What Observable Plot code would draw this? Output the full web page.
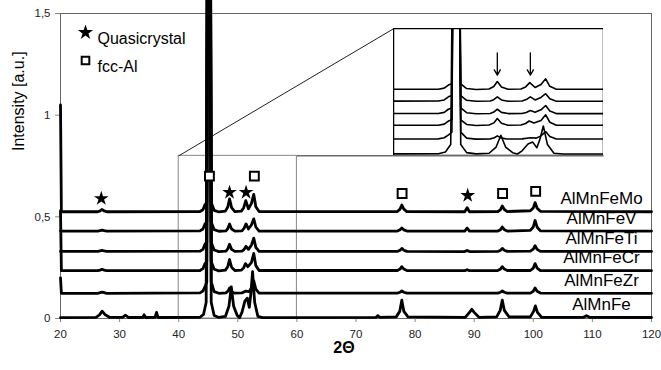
<!DOCTYPE html>
<html>
<head>
<meta charset="utf-8">
<script src="https://cdn.jsdelivr.net/npm/d3@7"></script>
<script src="https://cdn.jsdelivr.net/npm/@observablehq/plot@0.6"></script>
<style>
  html, body { margin: 0; padding: 0; background: white; }
  #wrap { position: relative; width: 661px; height: 370px; overflow: hidden; }
  #inset { position: absolute; }
</style>
</head>
<body>
<div id="wrap"></div>
<script>
// ---- data ----
const seriesNames = ["AlMnFe", "AlMnFeZr", "AlMnFeCr", "AlMnFeTi", "AlMnFeV", "AlMnFeMo"];
const seriesOffsets = [0, 0.12, 0.23, 0.325, 0.425, 0.52];

const patternFe = [[20,0.004],[26.0,0.006],[26.6,0.018],[27.05,0.036],[27.5,0.02],[28.3,0.006],[30.5,0.006],[31.0,0.016],[31.5,0.005],[33.9,0.005],[34.15,0.018],[34.4,0.005],[36.0,0.006],[36.25,0.03],[36.5,0.005],[43.6,0.006],[44.2,0.02],[44.65,0.08],[44.95,3],[45.25,3],[45.5,0.08],[46.0,0.015],[46.8,0.005],[47.9,0.01],[48.5,0.06],[48.9,0.155],[49.3,0.06],[49.9,0.015],[50.3,0.004],[50.7,0.03],[51.2,0.085],[51.6,0.1],[51.95,0.055],[52.2,0.12],[52.5,0.23],[52.85,0.08],[53.4,0.01],[54.2,0.004],[73.4,0.006],[73.7,0.014],[74.0,0.006],[76.8,0.008],[77.4,0.035],[77.75,0.09],[78.1,0.035],[78.8,0.008],[88.5,0.006],[89.2,0.03],[89.6,0.045],[90.0,0.03],[90.8,0.006],[93.8,0.008],[94.4,0.04],[94.75,0.09],[95.1,0.04],[95.9,0.008],[99.5,0.008],[100.05,0.035],[100.35,0.062],[100.7,0.03],[101.4,0.006],[108.5,0.006],[109.0,0.014],[109.5,0.006],[120,0.005]];
const patternZr = [[20,0.08],[20.15,0.004],[26.3,0.004],[26.7,0.007],[27,0.01],[27.4,0.007],[27.8,0.004],[43.6,0.006],[44.1,0.015],[44.5,0.04],[44.75,0.06],[44.95,3],[45.25,3],[45.5,0.06],[46.0,0.012],[46.8,0.004],[48.0,0.006],[48.35,0.015],[48.6,0.03],[48.9,0.014],[49.4,0.005],[50.7,0.006],[51.4,0.015],[51.9,0.012],[52.3,0.03],[52.7,0.065],[53.05,0.025],[53.6,0.005],[77.0,0.005],[77.45,0.009],[77.75,0.016],[78.1,0.009],[78.6,0.005],[94.0,0.005],[94.45,0.009],[94.75,0.016],[95.1,0.009],[95.6,0.005],[99.5,0.005],[100.0,0.014],[100.3,0.03],[100.65,0.014],[101.2,0.005],[120,0.004]];
const patternCr = [[20,0.3],[20.15,0.005],[26.3,0.005],[26.7,0.008],[27,0.012],[27.4,0.008],[27.8,0.005],[43.6,0.006],[44.1,0.015],[44.45,0.04],[44.75,0.05],[44.95,3],[45.25,3],[45.5,0.05],[46.0,0.012],[46.8,0.004],[47.9,0.008],[48.3,0.025],[48.6,0.06],[48.95,0.022],[49.5,0.006],[50.6,0.008],[51.0,0.02],[51.3,0.04],[51.7,0.025],[52.3,0.045],[52.7,0.09],[53.05,0.03],[53.6,0.006],[77.0,0.006],[77.45,0.013],[77.75,0.025],[78.1,0.013],[78.6,0.006],[88.4,0.005],[88.8,0.01],[89.2,0.005],[94.0,0.006],[94.45,0.013],[94.75,0.025],[95.1,0.013],[95.6,0.006],[99.5,0.006],[100.0,0.018],[100.3,0.04],[100.65,0.018],[101.2,0.006],[120,0.005]];
const patternTi = [[20,0.005],[26.3,0.005],[26.7,0.007],[27,0.01],[27.4,0.007],[27.8,0.005],[43.6,0.006],[44.1,0.015],[44.45,0.04],[44.75,0.05],[44.95,3],[45.25,3],[45.5,0.05],[46.0,0.012],[46.8,0.004],[48.0,0.006],[48.3,0.017],[48.6,0.04],[48.95,0.015],[49.5,0.005],[50.7,0.006],[51.05,0.014],[51.4,0.03],[51.8,0.015],[52.3,0.035],[52.7,0.07],[53.05,0.025],[53.6,0.005],[77.0,0.005],[77.45,0.011],[77.75,0.02],[78.1,0.011],[78.6,0.005],[88.4,0.004],[88.8,0.01],[89.2,0.004],[94.0,0.005],[94.45,0.011],[94.75,0.02],[95.1,0.011],[95.6,0.005],[99.5,0.006],[100.0,0.016],[100.3,0.033],[100.65,0.015],[101.2,0.005],[120,0.005]];
const patternV = [[20,0.005],[26.3,0.005],[26.7,0.007],[27,0.01],[27.4,0.007],[27.8,0.005],[43.6,0.006],[44.1,0.015],[44.45,0.04],[44.75,0.05],[44.95,3],[45.25,3],[45.5,0.05],[46.0,0.012],[46.8,0.004],[48.0,0.006],[48.3,0.017],[48.6,0.04],[48.95,0.015],[49.5,0.005],[50.7,0.006],[51.05,0.018],[51.4,0.04],[51.8,0.015],[52.3,0.035],[52.7,0.065],[53.05,0.025],[53.6,0.005],[77.0,0.005],[77.45,0.011],[77.75,0.02],[78.1,0.011],[78.6,0.005],[88.4,0.005],[88.8,0.02],[89.2,0.005],[94.0,0.005],[94.45,0.012],[94.75,0.025],[95.1,0.012],[95.6,0.005],[99.5,0.008],[100.0,0.025],[100.3,0.057],[100.65,0.024],[101.2,0.006],[120,0.005]];
const patternMo = [[20,0.53],[20.15,0.005],[26.3,0.005],[26.7,0.009],[27,0.016],[27.4,0.009],[27.8,0.005],[43.6,0.006],[44.1,0.015],[44.45,0.04],[44.75,0.05],[44.95,3],[45.25,3],[45.5,0.05],[46.0,0.012],[46.8,0.004],[47.9,0.008],[48.3,0.028],[48.6,0.068],[48.95,0.025],[49.5,0.006],[50.6,0.008],[51.0,0.025],[51.35,0.06],[51.8,0.02],[52.3,0.045],[52.7,0.09],[53.05,0.03],[53.6,0.006],[77.0,0.006],[77.45,0.018],[77.75,0.038],[78.1,0.018],[78.6,0.006],[88.4,0.005],[88.8,0.025],[89.2,0.005],[94.0,0.006],[94.45,0.016],[94.75,0.033],[95.1,0.016],[95.6,0.006],[99.5,0.01],[100.0,0.024],[100.3,0.05],[100.65,0.022],[101.2,0.007],[120,0.005]];
const patterns = [patternFe, patternZr, patternCr, patternTi, patternV, patternMo];

const starX = [26.9, 48.6, 51.4, 88.9];
const starY = [0.59, 0.62, 0.62, 0.605];
const squareX = [45.2, 52.8, 77.8, 94.8, 100.4];
const squareY = [0.70, 0.70, 0.615, 0.615, 0.625];

const xTicks = [20, 30, 40, 50, 60, 70, 80, 90, 100, 110, 120];
const yTicks = [0, 0.5, 1, 1.5];

const zoomBox = {x1: 40, x2: 60, y1: 0, y2: 0.8};          // region enlarged
const insetBox = {x1: 76.3, x2: 111.9, y1: 0.8, y2: 1.424}; // where the inset sits (main coords)
const insetDomainX = [39.8, 57.6];
const insetDomainY = [-0.008, 1.016];
const arrowX = [48.6, 51.4];
const arrowY = [0.82, 0.64];

(function () {
  const rows = [];
  patterns.forEach((p, i) => p.forEach(([x, v]) => rows.push({series: seriesNames[i], x, y: seriesOffsets[i] + v})));

  const font = "'Liberation Sans', Arial, sans-serif";
  const fmt = d => String(d).replace(".", ",");

  const main = Plot.plot({
    width: 661, height: 370,
    marginLeft: 60, marginRight: 10, marginTop: 13, marginBottom: 52,
    style: {fontFamily: font, fontSize: "11.5px", color: "#222", background: "white", overflow: "visible"},
    x: {domain: [20, 120]},
    y: {domain: [0, 1.5]},
    marks: [
      Plot.frame({stroke: "#666"}),
      Plot.axisX({ticks: xTicks, tickSize: 4, tickPadding: 7, stroke: "#888", fill: "#222", label: null}),
      Plot.axisY({ticks: yTicks, tickSize: 5, tickPadding: 5, tickFormat: fmt, stroke: "#888", fill: "#222", label: null}),
      Plot.rect([zoomBox], {x1: "x1", x2: "x2", y1: "y1", y2: "y2", stroke: "#888", fill: "none", strokeWidth: 1}),
      Plot.link([0, 1], {
        x1: [zoomBox.x1, zoomBox.x2], y1: [zoomBox.y2, zoomBox.y2],
        x2: [insetBox.x1, insetBox.x2], y2: [insetBox.y2, insetBox.y1],
        stroke: "#222", strokeWidth: 1
      }),
      Plot.line(rows, {x: "x", y: "y", z: "series", stroke: "black", strokeWidth: 2.8, strokeLinejoin: "round"}),
      Plot.dot(starX, {x: d => d, y: (d, i) => starY[i], symbol: "star", fill: "black", r: 4.6}),
      Plot.dot(squareX, {x: d => d, y: (d, i) => squareY[i], symbol: "square", fill: "white", stroke: "black", strokeWidth: 2, r: 5}),
      Plot.text(seriesNames, {y: (d, i) => seriesOffsets[i] + 0.068, text: d => d, frameAnchor: "right", textAnchor: "middle", dx: -50, fontSize: 17, fill: "black"}),
      Plot.dot(["Quasicrystal"], {frameAnchor: "top-left", dx: 25, dy: 19, symbol: "star", fill: "black", r: 4.8}),
      Plot.dot(["fcc-Al"], {frameAnchor: "top-left", dx: 25, dy: 47, symbol: "square", fill: "white", stroke: "black", strokeWidth: 2, r: 4.3}),
      Plot.text(["Quasicrystal"], {frameAnchor: "top-left", dx: 37, dy: 19, text: d => d, textAnchor: "start", fontSize: 16, fill: "black"}),
      Plot.text(["fcc-Al"], {frameAnchor: "top-left", dx: 37, dy: 47, text: d => d, textAnchor: "start", fontSize: 16, fill: "black"}),
      Plot.text(["2Θ"], {frameAnchor: "bottom", dy: 34, dx: -12, text: d => d, fontSize: 16, fontWeight: "bold", fill: "black"}),
      Plot.text(["Intensity [a.u.]"], {frameAnchor: "left", dx: -42, dy: -15, rotate: -90, text: d => d, fontSize: 16, fill: "black"})
    ]
  });

  const wrap = document.getElementById("wrap");
  wrap.appendChild(main);

  const sx = main.scale("x"), sy = main.scale("y");
  const pxLeft = sx.apply(insetBox.x1), pxRight = sx.apply(insetBox.x2);
  const pxTop = sy.apply(insetBox.y2), pxBottom = sy.apply(insetBox.y1);
  const w = Math.round(pxRight - pxLeft), h = Math.round(pxBottom - pxTop);

  const inset = Plot.plot({
    width: w, height: h, margin: 0,
    style: {background: "white", overflow: "hidden"},
    x: {domain: insetDomainX, axis: null},
    y: {domain: insetDomainY, axis: null},
    marks: [
      Plot.line(rows, {x: "x", y: "y", z: "series", stroke: "black", strokeWidth: 1.6, clip: true}),
      Plot.arrow(arrowX, {x1: d => d, x2: d => d, y1: arrowY[0], y2: arrowY[1], stroke: "black", strokeWidth: 1.3, headLength: 7}),
      Plot.frame({stroke: "black", strokeWidth: 1.5})
    ]
  });
  inset.id = "inset";
  inset.style.left = Math.round(pxLeft) + "px";
  inset.style.top = Math.round(pxTop) + "px";
  wrap.appendChild(inset);
})();
</script>
</body>
</html>
